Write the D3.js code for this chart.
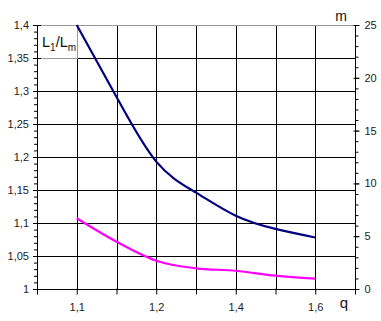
<!DOCTYPE html>
<html>
<head>
<meta charset="utf-8">
<script src="https://cdn.jsdelivr.net/npm/d3@7"></script>
<style>
  body { margin: 0; background: #fff; }
  text { font-family: "Liberation Sans", Arial, sans-serif; }
</style>
</head>
<body>
<div id="chart"></div>
<script>
// category axis (Excel style line chart), only every other label shown
const qCategories = ["1,05", "1,1", "1,15", "1,2", "1,3", "1,4", "1,5", "1,6", "1,7"];
const qLabels = ["1,1", "1,2", "1,4", "1,6"];

// data points
const pointQ = ["1,1", "1,15", "1,2", "1,3", "1,4", "1,5", "1,6"];
const ratioValues = [1.4, 1.291, 1.193, 1.146, 1.111, 1.091, 1.078];   // L1/Lm, left axis
const mValues = [6.7, 4.48, 2.68, 1.96, 1.73, 1.26, 0.98];             // m, right axis

const leftTicks = [1, 1.05, 1.1, 1.15, 1.2, 1.25, 1.3, 1.35, 1.4];
const rightTicks = [0, 5, 10, 15, 20, 25];

const width = 381, height = 321;
const margin = { top: 25, right: 26, bottom: 32, left: 37 };
const w = width - margin.left - margin.right;
const h = height - margin.top - margin.bottom;

const fmt = d => String(+d.toFixed(2)).replace(".", ",");

const svg = d3.select("#chart").append("svg")
    .attr("width", width)
    .attr("height", height);

const g = svg.append("g")
    .attr("transform", `translate(${margin.left},${margin.top})`);

const x = d3.scalePoint().domain(qCategories).range([0, w]);
const yL = d3.scaleLinear().domain([1, 1.4]).range([h, 0]);
const yR = d3.scaleLinear().domain([0, 25]).range([h, 0]);

// grid
g.append("g")
    .selectAll("line")
    .data(leftTicks.slice(1, -1))
    .enter()
    .append("line")
    .attr("x1", 0).attr("x2", w)
    .attr("y1", d => Math.round(yL(d)) + 0.5)
    .attr("y2", d => Math.round(yL(d)) + 0.5)
    .style("stroke", "#000");

g.append("g")
    .selectAll("line")
    .data(qCategories.slice(1, -1))
    .enter()
    .append("line")
    .attr("x1", d => Math.round(x(d)) + 0.5)
    .attr("x2", d => Math.round(x(d)) + 0.5)
    .attr("y1", 0).attr("y2", h)
    .style("stroke", "#000");

// top border (grey)
g.append("line")
    .attr("x1", 0).attr("x2", w)
    .attr("y1", 0.5).attr("y2", 0.5)
    .style("stroke", "#999");

// label box L1/Lm
g.append("rect")
    .attr("x", 0.5).attr("y", 0.5)
    .attr("width", Math.round(x(qCategories[1])))
    .attr("height", Math.round(yL(1.35)))
    .attr("fill", "#fff")
    .style("stroke", "#999");

const lab = g.append("text")
    .attr("x", 5).attr("y", 22)
    .attr("font-size", 14.5)
    .attr("fill", "#111");
lab.append("tspan").text("L");
lab.append("tspan").attr("font-size", 10).attr("dy", 4).text("1");
lab.append("tspan").attr("dy", -4).text("/L");
lab.append("tspan").attr("font-size", 10).attr("dy", 4).text("m");

// left axis
const leftMinor = d3.range(0, 41).map(i => 1 + i * 0.01);
const axL = g.append("g").call(d3.axisLeft(yL).tickValues(leftMinor).tickSize(3).tickFormat(""));
axL.select(".domain").remove();
axL.selectAll("line").attr("stroke", "#000");

const axLMajor = g.append("g")
    .call(d3.axisLeft(yL).tickValues(leftTicks).tickSize(4).tickPadding(4).tickFormat(fmt));
axLMajor.selectAll(".tick line").attr("x1", 4);
axLMajor.select(".domain").attr("d", `M0.5,0V${h}`);
axLMajor.selectAll("text").attr("font-size", 11).attr("fill", "#222")
    .attr("font-family", "Liberation Sans, Arial, sans-serif");

// right axis
const rightMinor = d3.range(0, 26);
const axR = g.append("g").attr("transform", `translate(${Math.round(w) + 0.5},0)`)
    .call(d3.axisRight(yR).tickValues(rightMinor).tickSize(3).tickFormat(""));
axR.select(".domain").remove();

const axRMajor = g.append("g").attr("transform", `translate(${Math.round(w) + 0.5},0)`)
    .call(d3.axisRight(yR).tickValues(rightTicks).tickSize(4).tickPadding(5).tickFormat(fmt));
axRMajor.selectAll(".tick line").attr("x1", -2);
axRMajor.select(".domain").attr("d", `M0,0V${h}`);
axRMajor.selectAll("text").attr("font-size", 11).attr("fill", "#222")
    .attr("font-family", "Liberation Sans, Arial, sans-serif");

// bottom axis
const axB = g.append("g").attr("transform", `translate(0,${h + 0.5})`)
    .call(d3.axisBottom(x).tickSize(5).tickPadding(9)
        .tickFormat(d => qLabels.includes(d) ? d : ""));
axB.select(".domain").attr("d", `M0,0H${w}`);
axB.selectAll(".tick line").attr("y1", -1);
axB.selectAll("text").attr("font-size", 11).attr("fill", "#222")
    .attr("font-family", "Liberation Sans, Arial, sans-serif");

// curves
const lineL = d3.line()
    .x((d, i) => x(pointQ[i]))
    .y(d => yL(d))
    .curve(d3.curveNatural);

const lineR = d3.line()
    .x((d, i) => x(pointQ[i]))
    .y(d => yR(d))
    .curve(d3.curveCardinal.tension(0));

g.append("path")
    .datum(mValues)
    .attr("d", lineR)
    .attr("fill", "none")
    .style("stroke", "#ff00ff")
    .style("stroke-width", 2.2);

g.append("path")
    .datum(ratioValues)
    .attr("d", lineL)
    .attr("fill", "none")
    .style("stroke", "#000080")
    .style("stroke-width", 2.2);

// axis titles
svg.append("text")
    .attr("x", 341).attr("y", 21)
    .attr("text-anchor", "middle")
    .attr("font-size", 14)
    .attr("fill", "#111")
    .text("m");

svg.append("text")
    .attr("x", 344).attr("y", 308)
    .attr("text-anchor", "middle")
    .attr("font-size", 15)
    .attr("fill", "#111")
    .text("q");
</script>
</body>
</html>
